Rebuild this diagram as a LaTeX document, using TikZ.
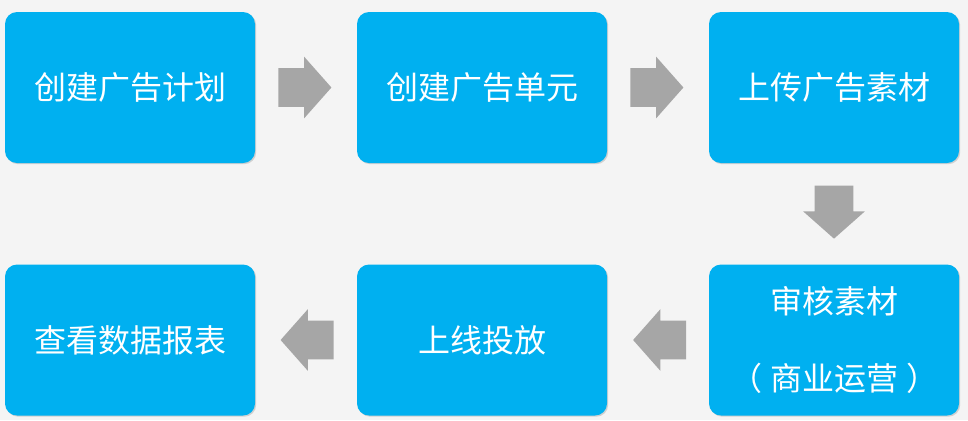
\documentclass[tikz,border=0pt]{standalone}
\usepackage{fontspec}
\newfontfamily\cjk{Noto Sans CJK SC}
\usepackage{tikz}
\usetikzlibrary{positioning,shapes.arrows,shadows,calc}
\definecolor{boxblue}{HTML}{00B0F0}
\definecolor{arrowgray}{HTML}{A6A6A6}
\definecolor{bggray}{HTML}{F4F4F4}

\begin{document}
\begin{tikzpicture}[x=0.5pt,y=-0.5pt,node distance=176pt,on grid,
    stage/.style={rectangle, rounded corners=6pt, fill=boxblue, text=white,
        minimum width=125pt, minimum height=75.5pt, align=center,
        font=\cjk\fontsize{16}{19}\selectfont,
        drop shadow={opacity=0.3, shadow xshift=0.6pt, shadow yshift=-0.6pt}},
    flow/.style={single arrow, fill=arrowgray, anchor=tail, minimum height=26.5pt,
        minimum width=0pt, inner xsep=0pt, inner ysep=9.5pt,
        single arrow head extend=5.75pt, single arrow tip angle=97,
        single arrow head indent=0pt}]
    \fill[bggray] (0,0) rectangle (968,420);
    \useasboundingbox (0,0) rectangle (968,420);
    \node[stage] (plan) at (130,87.5) {创建广告计划};
    \node[stage] (unit) [right=of plan] {创建广告单元};
    \node[stage] (upload) [right=of unit] {上传广告素材};
    \node[stage] (review) [below=126.25pt of upload] {审核素材\\[19.5pt]（\hspace{4pt}商业运营\hspace{4pt}）};
    \node[stage] (launch) [left=of review] {上线投放};
    \node[stage] (report) [left=of launch] {查看数据报表};
    % gray block arrows, tail placed 28px before the midpoint
    \node[flow] (a1) at ($(plan)!0.5!(unit)+(-28,0)$) {};
    \node[flow] (a2) at ($(unit)!0.5!(upload)+(-28,0)$) {};
    \node[flow, rotate=-90] (a3) at ($(upload)!0.5!(review)+(0,-28.5)$) {};
    \node[flow, rotate=180] (a4) at ($(review)!0.5!(launch)+(28.5,0)$) {};
    \node[flow, rotate=180] (a5) at ($(launch)!0.5!(report)+(28,0)$) {};
\end{tikzpicture}
\end{document}
